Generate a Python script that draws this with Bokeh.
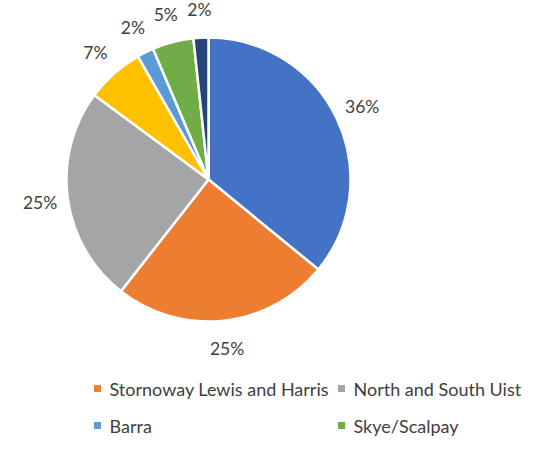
import math
from bokeh.plotting import figure
from bokeh.models import Range1d, ColumnDataSource
from bokeh.core.properties import value
from bokeh.embed import file_html
from bokeh.resources import INLINE

# Data (clockwise from 12 o'clock)
categories = ["Slice A", "Stornoway Lewis and Harris", "North and South Uist",
              "Slice D", "Barra", "Skye/Scalpay", "Slice G"]
shares = [36.0, 24.7, 24.6, 6.6, 1.9, 4.7, 1.7]
colors = ["#4472C4", "#ED7D31", "#A5A5A5", "#FFC000", "#5B9BD5", "#70AD47", "#264478"]
legend_items = ["Stornoway Lewis and Harris", "North and South Uist", "Barra", "Skye/Scalpay"]

W, H = 536, 471
FONT = "Lato"
TXT = "#404040"

p = figure(width=W, height=H, output_backend="svg", toolbar_location=None,
           x_range=Range1d(0, W), y_range=Range1d(0, H), min_border=0)
p.axis.visible = False
p.grid.visible = False
p.outline_line_color = None

cx, cy, r = 208, H - 179, 142
total = sum(shares)
starts, ends, lx, ly, labels = [], [], [], [], []
cum = 0.0
for s in shares:
    a0 = math.pi / 2 - 2 * math.pi * cum / total
    a1 = math.pi / 2 - 2 * math.pi * (cum + s) / total
    starts.append(a1)
    ends.append(a0)
    mid = (a0 + a1) / 2
    lx.append(cx + 170 * math.cos(mid))
    ly.append(cy + 170 * math.sin(mid))
    labels.append(f"{round(100 * s / total):.0f}%")
    cum += s

src = ColumnDataSource(dict(start=starts, end=ends, color=colors, cat=categories))
p.wedge(x=cx, y=cy, radius=r, start_angle="start", end_angle="end",
        fill_color="color", line_color="white", line_width=2.5, source=src)

p.text(x=lx, y=ly, text=labels, text_font=value(FONT), text_font_size="17.5px",
       text_color=TXT, text_align="center", text_baseline="middle")

# manual legend (2 columns)
col_x = [97, 341]
row_y = [H - 388, H - 425]
leg_colors = [colors[categories.index(n)] for n in legend_items]
lgx, lgy, sqx, sqy = [], [], [], []
for i, n in enumerate(legend_items):
    x0 = col_x[i % 2]
    y0 = row_y[i // 2]
    sqx.append(x0)
    sqy.append(y0)
    lgx.append(x0 + 12)
    lgy.append(y0)
p.rect(x=sqx, y=sqy, width=7, height=7, fill_color=leg_colors, line_color=None)
p.text(x=lgx, y=lgy, text=legend_items, text_font=value(FONT), text_font_size="18px",
       text_color=TXT, text_align="left", text_baseline="middle")

open("out.html", "w").write(file_html(p, INLINE))
